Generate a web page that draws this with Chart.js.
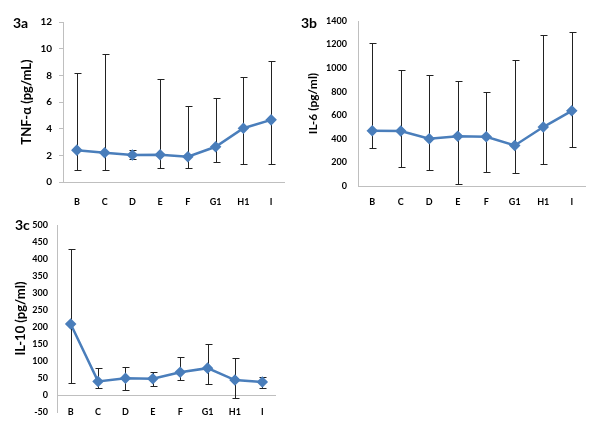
<!DOCTYPE html>
<html>
<head>
<meta charset="utf-8">
<script src="https://cdn.jsdelivr.net/npm/chart.js@4"></script>
<style>
  body { margin: 0; background: #fff; width: 600px; height: 437px; position: relative; overflow: hidden; font-family: Lato, "Open Sans", sans-serif; }
  canvas, .tag { position: absolute; }
  .tag { font-weight: bold; font-size: 14px; line-height: 17px; color: #000; }
</style>
</head>
<body>
<canvas id="chartA" width="300" height="215" style="left:0;top:0"></canvas>
<canvas id="chartB" width="300" height="215" style="left:300px;top:0"></canvas>
<canvas id="chartC" width="300" height="227" style="left:0;top:210px"></canvas>
<div class="tag" style="left:13px;top:14px">3a</div>
<div class="tag" style="left:301px;top:14px">3b</div>
<div class="tag" style="left:15px;top:216px">3c</div>
<script>
const categories = ['B', 'C', 'D', 'E', 'F', 'G1', 'H1', 'I'];

// 3a TNF-α
const tnfMean = [2.39, 2.19, 2.02, 2.04, 1.9, 2.64, 4.03, 4.66];
const tnfLow = [0.9, 0.9, 1.7, 1.05, 1.02, 1.47, 1.34, 1.34];
const tnfHigh = [8.2, 9.63, 2.4, 7.7, 5.7, 6.3, 7.9, 9.06];

// 3b IL-6
const il6Mean = [468, 466, 401, 423, 418, 344, 500, 638];
const il6Low = [325, 158, 135, 14, 116, 113, 183, 327];
const il6High = [1216, 985, 943, 895, 799, 1070, 1284, 1304];

// 3c IL-10
const il10Mean = [209, 40, 49, 48, 67, 79, 44, 38];
const il10Low = [36, 21, 15, 27, 43, 33, -10, 21];
const il10High = [430, 80, 82, 67, 113, 150, 109, 53];

const lineBlue = '#4a7ebb';
const axisGray = '#bfbfbf';

Chart.defaults.font.family = "Lato, 'Open Sans', sans-serif";

// whiskers drawn from each point's low/high through the y scale
const errorBars = {
  id: 'errorBars',
  beforeDatasetsDraw(chart) {
    const ds = chart.data.datasets[0];
    const meta = chart.getDatasetMeta(0);
    const y = chart.scales.y;
    const ctx = chart.ctx;
    ctx.save();
    ctx.strokeStyle = '#222';
    ctx.lineWidth = 1;
    meta.data.forEach((pt, i) => {
      const x = Math.round(pt.x) + 0.5;
      const lo = Math.round(y.getPixelForValue(ds.errLow[i])) + 0.5;
      const hi = Math.round(y.getPixelForValue(ds.errHigh[i])) + 0.5;
      ctx.beginPath();
      ctx.moveTo(x, lo); ctx.lineTo(x, hi);
      ctx.moveTo(x - 3, lo); ctx.lineTo(x + 4, lo);
      ctx.moveTo(x - 3, hi); ctx.lineTo(x + 4, hi);
      ctx.stroke();
    });
    ctx.restore();
  }
};

function panel(id, p) {
  // moves the category labels up (3c has them level with the -50 tick)
  const lift = {
    id: 'lift',
    afterLayout(chart) {
      const x = chart.scales.x;
      x.top -= p.xLift;
      x.bottom -= p.xLift;
    }
  };
  return new Chart(document.getElementById(id), {
    type: 'line',
    data: {
      labels: categories,
      datasets: [{
        data: p.mean,
        errLow: p.low,
        errHigh: p.high,
        borderColor: lineBlue,
        backgroundColor: lineBlue,
        borderWidth: 2.5,
        pointStyle: 'rectRot',
        pointRadius: 4,
        tension: 0
      }]
    },
    options: {
      responsive: false,
      animation: false,
      layout: { padding: { left: 0, top: p.top, right: p.right, bottom: 0 } },
      plugins: { legend: { display: false }, tooltip: { enabled: false } },
      scales: {
        x: {
          offset: true,
          grid: { display: false },
          border: { display: false },
          ticks: { color: '#000', font: { size: 9, weight: 'bold' }, padding: p.xPad },
          afterFit: s => { s.height = p.xHeight; }
        },
        y: {
          min: p.min,
          max: p.max,
          ticks: {
            stepSize: p.step, autoSkip: false, color: '#000',
            font: { size: p.yFont, weight: 'bold' }, padding: p.yPad,
            callback: v => String(v)
          },
          grid: {
            color: c => (c.tick && c.tick.value === 0) ? axisGray : 'rgba(0,0,0,0)',
            drawTicks: p.tickLen > 0,
            tickLength: p.tickLen,
            tickColor: axisGray
          },
          border: { color: axisGray },
          title: {
            display: true,
            text: p.title,
            color: '#000',
            font: { size: p.titleSize, weight: 'bold' },
            padding: { top: p.titlePad, bottom: 0 }
          },
          afterFit: s => { s.width = p.yWidth; }
        }
      }
    },
    plugins: [errorBars, lift]
  });
}

panel('chartA', {
  mean: tnfMean, low: tnfLow, high: tnfHigh,
  min: 0, max: 12, step: 2, title: 'TNF-α (pg/mL)', titleSize: 13, titlePad: 19,
  top: 22, right: 15, yWidth: 63, xHeight: 33, xPad: 7, xLift: 0, yPad: 7, yFont: 10, tickLen: 4
});

panel('chartB', {
  mean: il6Mean, low: il6Low, high: il6High,
  min: 0, max: 1400, step: 200, title: 'IL-6 (pg/ml)', titleSize: 12, titlePad: 6,
  top: 21, right: 14, yWidth: 58, xHeight: 29, xPad: 3, xLift: 0, yPad: 11, yFont: 9, tickLen: 0
});

panel('chartC', {
  mean: il10Mean, low: il10Low, high: il10High,
  min: -50, max: 500, step: 50, title: 'IL-10 (pg/ml)', titleSize: 13, titlePad: 13,
  top: 15, right: 24, yWidth: 57, xHeight: 25, xPad: 0, xLift: 13, yPad: 9, yFont: 9, tickLen: 0
});
</script>
</body>
</html>
